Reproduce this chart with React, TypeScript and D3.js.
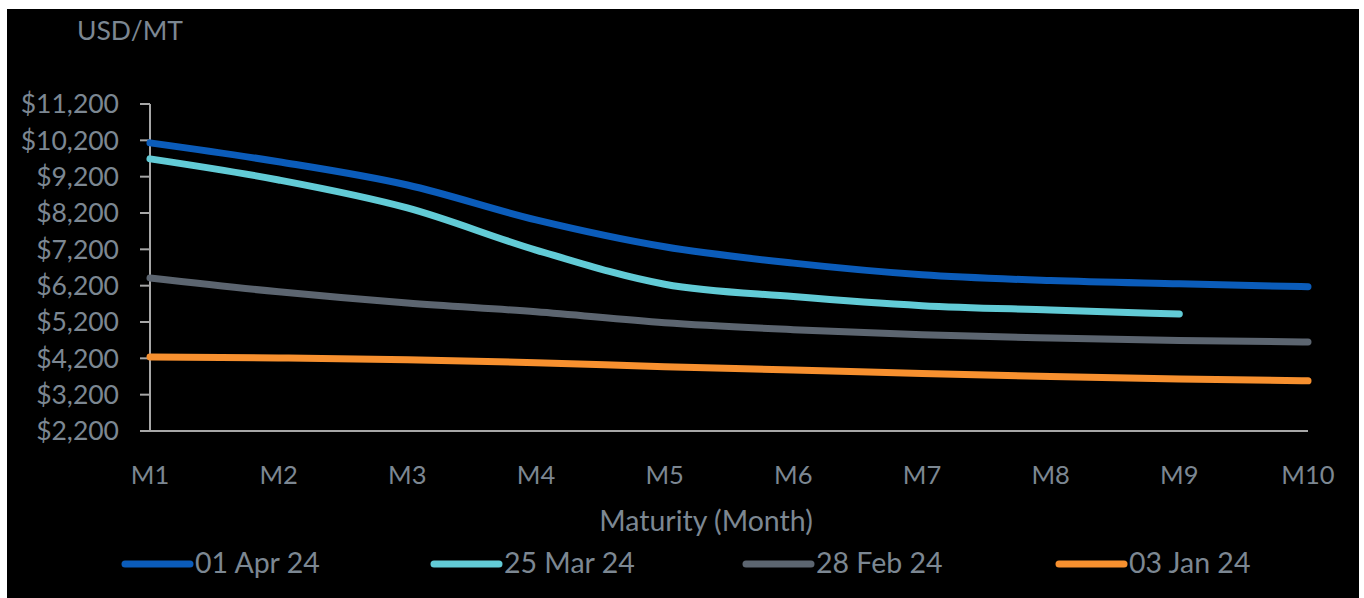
import React from "react";
import * as d3 from "d3";

const months = ["M1", "M2", "M3", "M4", "M5", "M6", "M7", "M8", "M9", "M10"];
const yTicks = [2200, 3200, 4200, 5200, 6200, 7200, 8200, 9200, 10200, 11200];

const apr01 = [10130, 9610, 8970, 8010, 7270, 6820, 6500, 6340, 6250, 6170];
const mar25 = [9690, 9110, 8340, 7180, 6240, 5900, 5650, 5530, 5420];
const feb28 = [6410, 6030, 5720, 5480, 5180, 4990, 4850, 4760, 4690, 4650];
const jan03 = [4240, 4210, 4160, 4080, 3970, 3880, 3780, 3700, 3630, 3580];

const seriesNames = ["01 Apr 24", "25 Mar 24", "28 Feb 24", "03 Jan 24"];
const seriesColors = ["#0b5cba", "#62cbd6", "#5c6570", "#f7902f"];

const W = 1364;
const H = 598;
const FONT = "Lato, 'Open Sans', sans-serif";
const TXT = "#7c8792";

export default function App() {
  const x = d3.scalePoint<string>().domain(months).range([150, 1308]);
  const y = d3.scaleLinear().domain([2200, 11200]).range([431, 104]);
  const line = d3
    .line<number>()
    .x((_, i) => x(months[i]) as number)
    .y((d) => y(d))
    .curve(d3.curveMonotoneX);

  const data = [apr01, mar25, feb28, jan03];
  const legendX = [122, 431, 743, 1056];
  const fmt = (v: number) => "$" + d3.format(",")(v);

  return (
    <svg
      width={W}
      height={H}
      style={{ position: "absolute", left: 0, top: 0, display: "block" }}
    >
      <rect x={0} y={0} width={W} height={H} fill="#ffffff" />
      <rect x={7} y={9} width={1352} height={H - 9} fill="#000000" />
      <text x={77} y={40} fill={TXT} fontFamily={FONT} fontSize={26.5}>
        USD/MT
      </text>
      {/* y axis */}
      <line x1={150} x2={150} y1={y(11200)} y2={y(2200)} stroke="#a7a7a7" strokeWidth={2} />
      {yTicks.map((t) => (
        <g key={t}>
          <line x1={140} x2={150} y1={y(t)} y2={y(t)} stroke="#a7a7a7" strokeWidth={2} />
          <text
            x={119}
            y={y(t)}
            dy="0.35em"
            textAnchor="end"
            fill={TXT}
            fontFamily={FONT}
            fontSize={26.5}
          >
            {fmt(t)}
          </text>
        </g>
      ))}
      {/* x axis */}
      <line x1={140} x2={1308} y1={y(2200)} y2={y(2200)} stroke="#a7a7a7" strokeWidth={2} />
      {months.map((m) => (
        <text
          key={m}
          x={x(m)}
          y={484}
          textAnchor="middle"
          fill={TXT}
          fontFamily={FONT}
          fontSize={25.5}
        >
          {m}
        </text>
      ))}
      <text x={706} y={531} textAnchor="middle" fill={TXT} fontFamily={FONT} fontSize={28.5}>
        Maturity (Month)
      </text>
      {/* series */}
      {data.map((d, i) => (
        <path
          key={seriesNames[i]}
          d={line(d) || ""}
          fill="none"
          stroke={seriesColors[i]}
          strokeWidth={7}
          strokeLinecap="round"
          strokeLinejoin="round"
        />
      ))}
      {/* legend */}
      {seriesNames.map((n, i) => (
        <g key={n}>
          <line
            x1={legendX[i] + 3}
            x2={legendX[i] + 68}
            y1={564}
            y2={564}
            stroke={seriesColors[i]}
            strokeWidth={7}
            strokeLinecap="round"
          />
          <text
            x={legendX[i] + 73}
            y={573}
            fill={TXT}
            fontFamily={FONT}
            fontSize={28.5}
          >
            {n}
          </text>
        </g>
      ))}
    </svg>
  );
}
